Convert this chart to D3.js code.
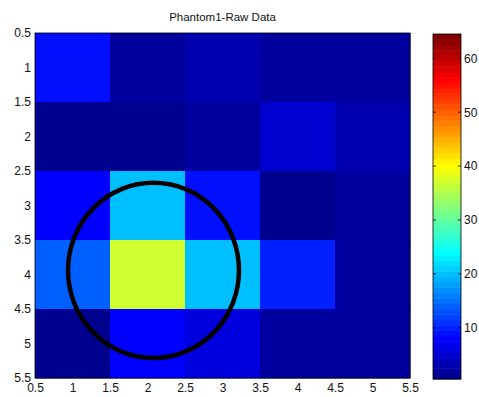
<!DOCTYPE html>
<html><head><meta charset="utf-8">
<script src="https://cdn.jsdelivr.net/npm/d3@7"></script>
<style>body{margin:0;background:#fff}svg{display:block}text{font-family:"Liberation Sans",Arial,sans-serif;font-size:12px;fill:#111}</style>
</head><body>
<svg id="c" width="479" height="397"></svg>
<script>
const title = "Phantom1-Raw Data";
const xCats = [1, 2, 3, 4, 5];
const yCats = [1, 2, 3, 4, 5];
const values = [
  [9, 2, 3, 2, 2],
  [1, 1, 2, 5, 3],
  [8, 20, 9, 1, 2],
  [14, 37, 20, 10, 2],
  [1, 8, 6, 2, 2]
];
const axisTicks = [0.5, 1, 1.5, 2, 2.5, 3, 3.5, 4, 4.5, 5, 5.5];
const cbTicks = [10, 20, 30, 40, 50, 60];
const cLim = [0.5, 64.5];
const circle = {cx: 2.08, cy: 3.94, rx: 1.14, ry: 1.27};

function jet(i){ // i: 1..64
  const c = v => Math.max(0, Math.min(1, v));
  const r = c(Math.min((i-24)/16, 1, (72-i)/16));
  const g = c(Math.min((i-8)/16, 1, (56-i)/16));
  const b = c(Math.min(0.5+i/16, 1, (40-i)/16));
  return d3.rgb(r*255, g*255, b*255).toString();
}
function colorOf(v){
  let idx = Math.floor((v-cLim[0])/(cLim[1]-cLim[0])*64)+1;
  idx = Math.max(1, Math.min(64, idx));
  return jet(idx);
}

const svg = d3.select("#c");
const L = 35, R = 410, T = 33, B = 378;
const x = d3.scaleLinear().domain([0.5, 5.5]).range([L, R]);
const y = d3.scaleLinear().domain([0.5, 5.5]).range([T, B]);

const g = svg.append("g");
values.forEach((row, ri) => row.forEach((v, ci) => {
  g.append("rect")
    .attr("x", x(xCats[ci]-0.5)).attr("y", y(yCats[ri]-0.5))
    .attr("width", x(xCats[ci]+0.5)-x(xCats[ci]-0.5)+0.5)
    .attr("height", y(yCats[ri]+0.5)-y(yCats[ri]-0.5)+0.5)
    .attr("fill", colorOf(v));
}));

svg.append("ellipse")
  .attr("cx", x(circle.cx)).attr("cy", y(circle.cy))
  .attr("rx", x(circle.cx+circle.rx)-x(circle.cx))
  .attr("ry", y(circle.cy+circle.ry)-y(circle.cy))
  .attr("fill", "none").attr("stroke", "#000").attr("stroke-width", 4.5);

svg.append("rect").attr("x", L).attr("y", T).attr("width", R-L).attr("height", B-T)
  .attr("fill", "none").attr("stroke", "#000").attr("stroke-width", 0.8);

// axes
const xAx = d3.axisBottom(x).tickValues(axisTicks).tickSize(0).tickPadding(5).tickFormat(d3.format("~g"));
svg.append("g").attr("transform", `translate(0,${B})`).call(xAx).call(a => a.select(".domain").remove())
  .selectAll("text").style("font-size", "12px").attr("fill", "#111").attr("font-family", null);
const yAx = d3.axisLeft(y).tickValues(axisTicks).tickSize(0).tickPadding(4).tickFormat(d3.format("~g"));
svg.append("g").attr("transform", `translate(${L},0)`).call(yAx).call(a => a.select(".domain").remove())
  .selectAll("text").style("font-size", "12px").attr("fill", "#111").attr("font-family", null);

svg.append("text").attr("x", (L+R)/2).attr("y", 21).attr("text-anchor", "middle")
  .style("font-size", "11.5px").text(title);

// colorbar
const CL = 433, CR = 461, CT = 34, CB = 379;
const cy = d3.scaleLinear().domain(cLim).range([CB, CT]);
const levels = d3.range(1, 65);
svg.append("g").selectAll("rect").data(levels).join("rect")
  .attr("x", CL).attr("width", CR-CL)
  .attr("y", i => cy(cLim[0] + i*(cLim[1]-cLim[0])/64))
  .attr("height", (cy(0)-cy((cLim[1]-cLim[0])/64))+0.5)
  .attr("fill", i => jet(i));
svg.append("rect").attr("x", CL).attr("y", CT).attr("width", CR-CL).attr("height", CB-CT)
  .attr("fill", "none").attr("stroke", "#000").attr("stroke-width", 0.8);
const cAx = d3.axisRight(cy).tickValues(cbTicks).tickSize(0).tickPadding(3);
svg.append("g").attr("transform", `translate(${CR},0)`).call(cAx).call(a => a.select(".domain").remove())
  .selectAll("text").style("font-size", "12px").attr("fill", "#111").attr("font-family", null);
const tk = svg.append("g");
cbTicks.forEach(t => {
  tk.append("line").attr("x1", CL).attr("x2", CL+3).attr("y1", cy(t)).attr("y2", cy(t)).attr("stroke", "#000").attr("stroke-width", 0.8);
  tk.append("line").attr("x1", CR-3).attr("x2", CR).attr("y1", cy(t)).attr("y2", cy(t)).attr("stroke", "#000").attr("stroke-width", 0.8);
});
</script>
</body></html>
